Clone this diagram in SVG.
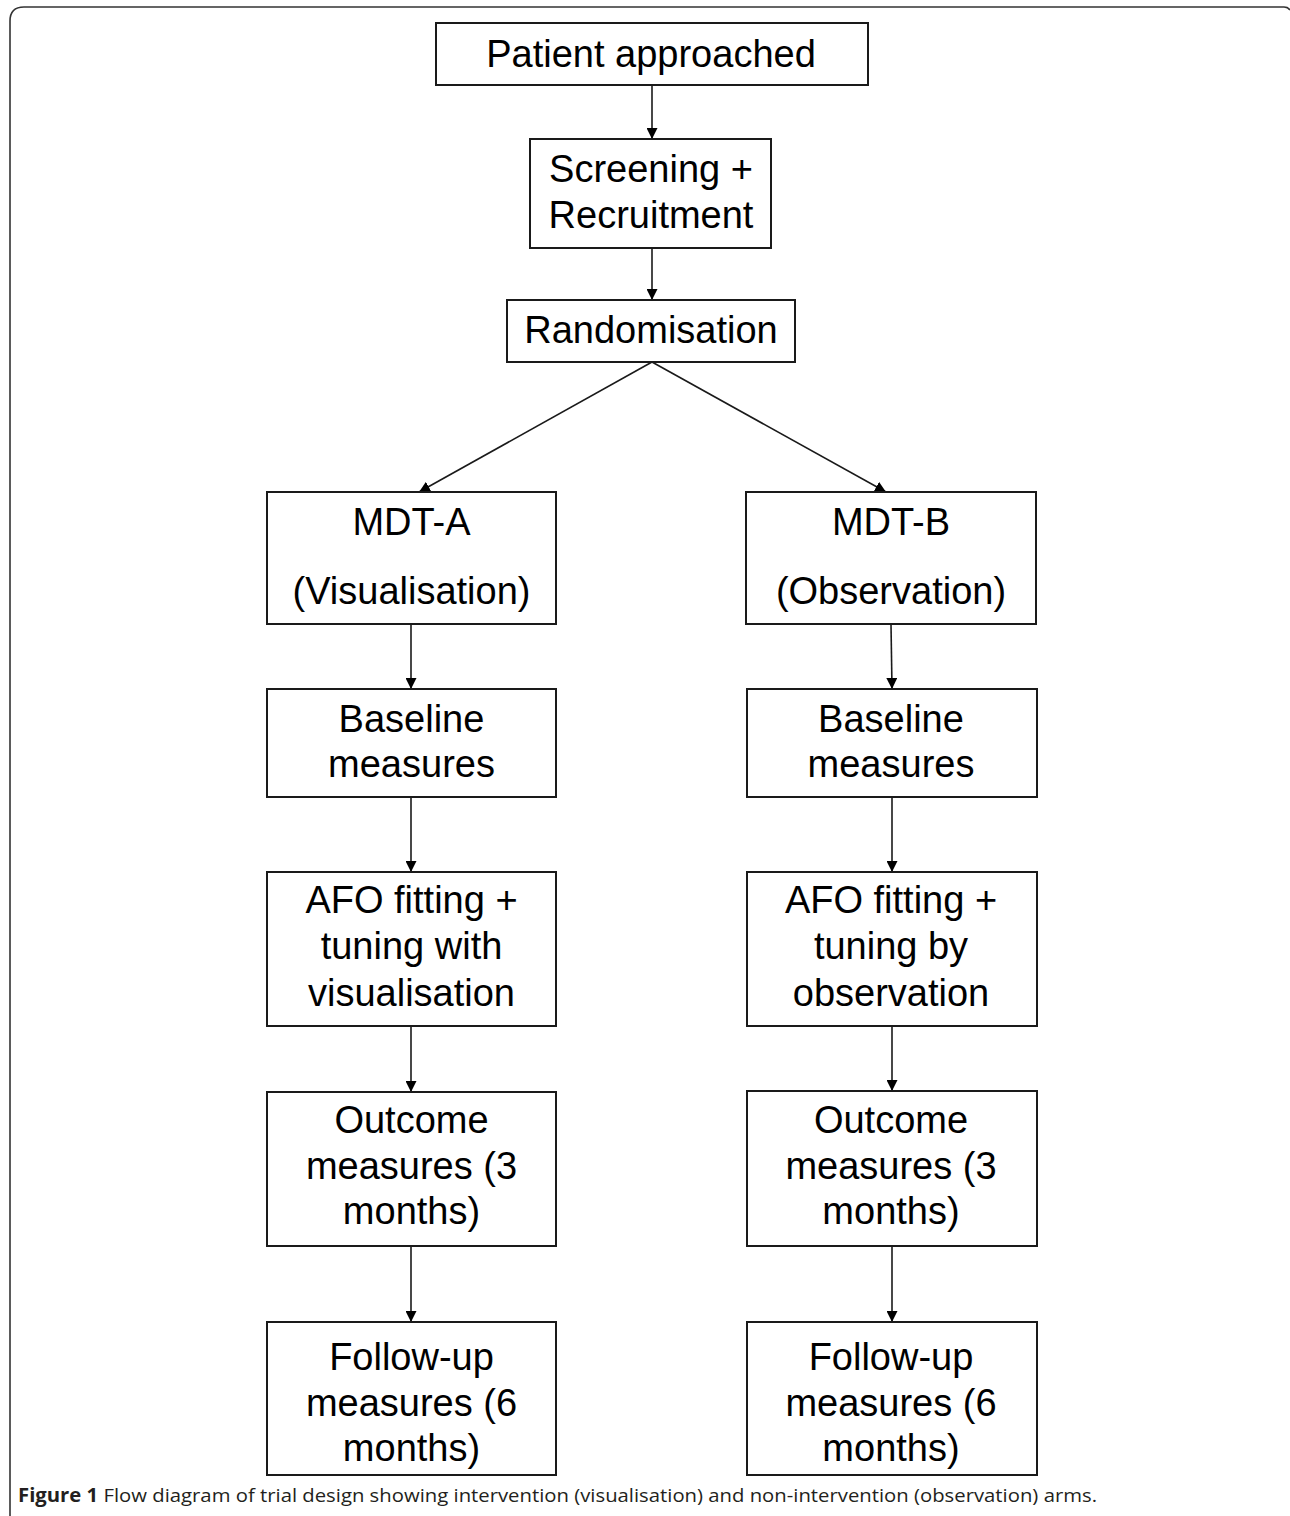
<svg xmlns="http://www.w3.org/2000/svg" width="1290" height="1516" viewBox="0 0 1290 1516">
<defs>
<style>
.box{fill:#fff;stroke:#1a1a1a;stroke-width:2}
.t{font-family:"Liberation Sans",Arial,sans-serif;font-size:38px;fill:#000;text-anchor:middle}
.c{fill:none;stroke:#1a1a1a;stroke-width:1.6}
.cap{font-family:"Open Sans","Noto Sans",sans-serif;font-size:19px;fill:#231f20}
</style>
<marker id="ah" markerUnits="userSpaceOnUse" markerWidth="11" markerHeight="11" refX="11" refY="5.5" orient="auto" viewBox="0 0 11 11">
<path d="M0,0 L11,5.5 L0,11 z" fill="#000"/>
</marker>
</defs>
<rect width="1290" height="1516" fill="#fff"/>
<path d="M10,1516 V21 Q10,7 24,7 H1284 Q1288,7 1290,10" fill="none" stroke="#333" stroke-width="1.6"/>

<g id="connectors">
<line class="c" x1="652" y1="85" x2="652" y2="139" marker-end="url(#ah)"/>
<line class="c" x1="652" y1="248" x2="652" y2="300" marker-end="url(#ah)"/>
<line class="c" x1="652" y1="362" x2="419" y2="492" marker-end="url(#ah)"/>
<line class="c" x1="652" y1="362" x2="886" y2="492" marker-end="url(#ah)"/>
<line class="c" x1="411" y1="624" x2="411" y2="689" marker-end="url(#ah)"/>
<line class="c" x1="411" y1="797" x2="411" y2="872" marker-end="url(#ah)"/>
<line class="c" x1="411" y1="1026" x2="411" y2="1092" marker-end="url(#ah)"/>
<line class="c" x1="411" y1="1246" x2="411" y2="1322" marker-end="url(#ah)"/>
<line class="c" x1="891" y1="624" x2="892" y2="689" marker-end="url(#ah)"/>
<line class="c" x1="892" y1="797" x2="892" y2="872" marker-end="url(#ah)"/>
<line class="c" x1="892" y1="1026" x2="892" y2="1091" marker-end="url(#ah)"/>
<line class="c" x1="892" y1="1246" x2="892" y2="1322" marker-end="url(#ah)"/>
</g>

<g id="patient">
<rect class="box" x="436" y="23" width="432" height="62"/>
<text class="t" x="651" y="67">Patient approached</text>
</g>
<g id="screening">
<rect class="box" x="530" y="139" width="241" height="109"/>
<text class="t" x="651" y="182">Screening +</text>
<text class="t" x="651" y="228">Recruitment</text>
</g>
<g id="randomisation">
<rect class="box" x="507" y="300" width="288" height="62"/>
<text class="t" x="651" y="343">Randomisation</text>
</g>

<g id="mdt-a">
<rect class="box" x="267" y="492" width="289" height="132"/>
<text class="t" x="411.5" y="535">MDT-A</text>
<text class="t" x="411.5" y="604">(Visualisation)</text>
</g>
<g id="baseline-a">
<rect class="box" x="267" y="689" width="289" height="108"/>
<text class="t" x="411.5" y="732">Baseline</text>
<text class="t" x="411.5" y="777">measures</text>
</g>
<g id="afo-a">
<rect class="box" x="267" y="872" width="289" height="154"/>
<text class="t" x="411.5" y="913">AFO fitting +</text>
<text class="t" x="411.5" y="959">tuning with</text>
<text class="t" x="411.5" y="1006">visualisation</text>
</g>
<g id="outcome-a">
<rect class="box" x="267" y="1092" width="289" height="154"/>
<text class="t" x="411.5" y="1133">Outcome</text>
<text class="t" x="411.5" y="1179">measures (3</text>
<text class="t" x="411.5" y="1224">months)</text>
</g>
<g id="followup-a">
<rect class="box" x="267" y="1322" width="289" height="153"/>
<text class="t" x="411.5" y="1370">Follow-up</text>
<text class="t" x="411.5" y="1416">measures (6</text>
<text class="t" x="411.5" y="1461">months)</text>
</g>

<g id="mdt-b">
<rect class="box" x="746" y="492" width="290" height="132"/>
<text class="t" x="891" y="535">MDT-B</text>
<text class="t" x="891" y="604">(Observation)</text>
</g>
<g id="baseline-b">
<rect class="box" x="747" y="689" width="290" height="108"/>
<text class="t" x="891" y="732">Baseline</text>
<text class="t" x="891" y="777">measures</text>
</g>
<g id="afo-b">
<rect class="box" x="747" y="872" width="290" height="154"/>
<text class="t" x="891" y="913">AFO fitting +</text>
<text class="t" x="891" y="959">tuning by</text>
<text class="t" x="891" y="1006">observation</text>
</g>
<g id="outcome-b">
<rect class="box" x="747" y="1091" width="290" height="155"/>
<text class="t" x="891" y="1133">Outcome</text>
<text class="t" x="891" y="1179">measures (3</text>
<text class="t" x="891" y="1224">months)</text>
</g>
<g id="followup-b">
<rect class="box" x="747" y="1322" width="290" height="153"/>
<text class="t" x="891" y="1370">Follow-up</text>
<text class="t" x="891" y="1416">measures (6</text>
<text class="t" x="891" y="1461">months)</text>
</g>

<text class="cap" x="18" y="1502" textLength="1079" lengthAdjust="spacingAndGlyphs"><tspan font-weight="bold">Figure 1</tspan> Flow diagram of trial design showing intervention (visualisation) and non-intervention (observation) arms.</text>
</svg>
